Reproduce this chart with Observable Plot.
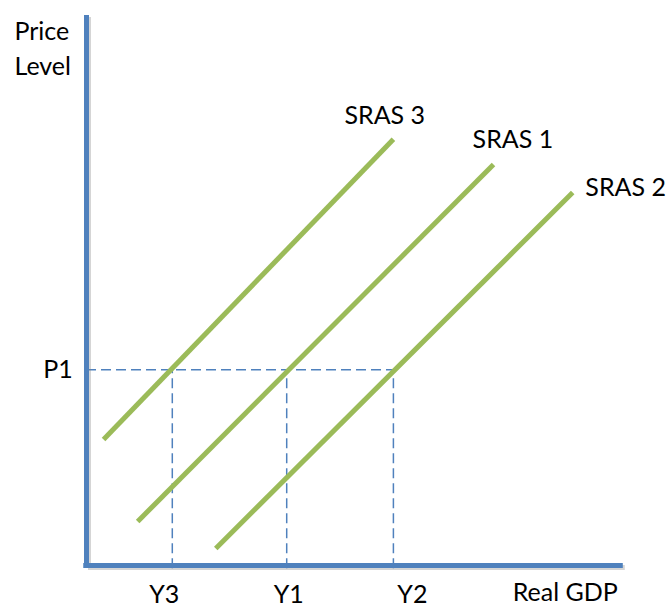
<!DOCTYPE html>
<html>
<head>
<meta charset="utf-8">
<script src="https://cdn.jsdelivr.net/npm/d3@7"></script>
<script src="https://cdn.jsdelivr.net/npm/@observablehq/plot@0.6"></script>
<style>
  html, body { margin: 0; padding: 0; background: #fff; }
  #chart svg { display: block; }
</style>
</head>
<body>
<div id="chart"></div>
<script>
// ---- data (arbitrary units: real GDP on x, price level on y) ----
const srasNames  = ["SRAS 3", "SRAS 1", "SRAS 2"];
const srasStartX = [3.1, 9.3, 23.5];
const srasStartY = [22.9, 8.0, 3.1];
const srasEndX   = [55.8, 74.0, 88.4];
const srasEndY   = [77.5, 72.9, 67.8];
const srasLabelX = [46.9, 70.2, 90.7];
const srasLabelY = [81.8, 77.3, 68.6];

const gdpTickLabels = ["Y3", "Y1", "Y2"];
const gdpTickValues = [15.6, 36.4, 55.8];
const priceTickLabel = "P1";
const priceTickValue = 35.6;

const xAxisEnd = 97.6;
const yAxisEnd = 100;

// ---- build tables ----
const segs = srasNames.map((n, i) => ({name: n, x1: srasStartX[i], y1: srasStartY[i], x2: srasEndX[i], y2: srasEndY[i]}));
const srasLabels = srasNames.map((n, i) => ({name: n, x: srasLabelX[i], y: srasLabelY[i]}));
const gdpTicks = gdpTickLabels.map((l, i) => ({label: l, x: gdpTickValues[i]}));
const tickShift = [-8, 2, 19];

const blue = "#4f81bd";
const green = "#9bbb59";
const font = 25;

const chart = Plot.plot({
  width: 670,
  height: 608,
  marginLeft: 86,
  marginRight: 34,
  marginTop: 15,
  marginBottom: 43,
  x: {domain: [0, 100], axis: null},
  y: {domain: [0, 100], axis: null},
  style: {fontFamily: "Lato, 'Open Sans', sans-serif", background: "#fff", color: "#000"},
  marks: [
    // dashed guide lines
    Plot.ruleY([priceTickValue], {x1: 0, x2: gdpTickValues[2], stroke: blue, strokeWidth: 1.5, strokeDasharray: "10,5"}),
    Plot.ruleX(gdpTicks, {x: "x", y1: -0.6, y2: priceTickValue, stroke: blue, strokeWidth: 1.5, strokeDasharray: "10,5"}),
    // SRAS curves
    Plot.link(segs, {x1: "x1", y1: "y1", x2: "x2", y2: "y2", stroke: green, strokeWidth: 5, strokeLinecap: "butt"}),
    // axis shadows
    Plot.ruleX([0], {y1: 0, y2: yAxisEnd, stroke: "#888", strokeOpacity: 0.35, strokeWidth: 5, dx: 2, dy: 2}),
    Plot.ruleY([0], {x1: 0, x2: xAxisEnd, stroke: "#888", strokeOpacity: 0.35, strokeWidth: 5, dx: 2, dy: 2}),
    // axes
    Plot.ruleX([0], {y1: 0, y2: yAxisEnd, stroke: blue, strokeWidth: 5}),
    Plot.ruleY([0], {x1: -0.5, x2: xAxisEnd, stroke: blue, strokeWidth: 5}),
    // labels
    Plot.text(srasLabels, {x: "x", y: "y", text: "name", textAnchor: "start", fontSize: font, fill: "#000"}),
    ...gdpTicks.map((d, i) => Plot.text([d], {x: "x", y: -5.4, text: "label", fontSize: font, fill: "#000", dx: tickShift[i]})),
    Plot.text([priceTickLabel], {x: -2.5, y: priceTickValue, text: d => d, textAnchor: "end", fontSize: font, fill: "#000"}),
    Plot.text(["Price\nLevel"], {x: -13.1, y: 96.9, text: d => d, textAnchor: "start", lineAnchor: "middle", fontSize: font, lineHeight: 1.38, fill: "#000", dy: 14}),
    Plot.text(["Real GDP"], {x: 77.5, y: -5.0, text: d => d, textAnchor: "start", fontSize: font, fill: "#000"})
  ]
});

document.getElementById("chart").appendChild(chart);
</script>
</body>
</html>
